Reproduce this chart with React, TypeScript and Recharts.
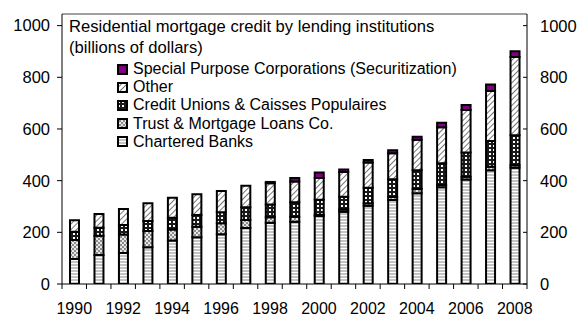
import { BarChart, Bar, XAxis, YAxis, ReferenceLine } from "recharts";

// billions of dollars
const years = [
  1990, 1991, 1992, 1993, 1994, 1995, 1996, 1997, 1998, 1999,
  2000, 2001, 2002, 2003, 2004, 2005, 2006, 2007, 2008,
];
const charteredBanks = [97, 112, 120, 142, 168, 181, 193, 217, 237, 241, 263, 280, 303, 325, 351, 374, 404, 440, 450];
const trustMortgage = [73, 75, 72, 63, 43, 41, 42, 31, 21, 19, 5, 8, 10, 12, 17, 9, 11, 14, 10];
const creditUnions = [32, 31, 36, 39, 45, 45, 43, 49, 50, 56, 58, 50, 60, 68, 72, 84, 94, 99, 116];
const other = [45, 53, 62, 69, 78, 80, 82, 83, 82, 81, 84, 95, 97, 101, 118, 140, 164, 194, 303];
const specialPurpose = [0, 0, 0, 0, 0, 0, 0, 0, 5, 13, 22, 10, 10, 12, 12, 17, 20, 25, 22];

const yTicks = [0, 200, 400, 600, 800, 1000];

const series = [
  { key: "cb", name: "Chartered Banks", values: charteredBanks, fill: "url(#pCb)" },
  { key: "tm", name: "Trust & Mortgage Loans Co.", values: trustMortgage, fill: "url(#pTm)" },
  { key: "cu", name: "Credit Unions & Caisses Populaires", values: creditUnions, fill: "url(#pCu)" },
  { key: "ot", name: "Other", values: other, fill: "url(#pOt)" },
  { key: "sp", name: "Special Purpose Corporations (Securitization)", values: specialPurpose, fill: "#800080" },
];

const data = years.map((year, i) => {
  const row: Record<string, number> = { year };
  series.forEach((s) => (row[s.key] = s.values[i]));
  return row;
});

const FONT = "'Liberation Sans', Arial, sans-serif";
const TOP = 1045;

function YearTick(props: any) {
  const { x, y, payload, index, width } = props;
  const half =
    payload && payload.offset > 0 ? payload.offset : (width || 465) / years.length / 2;
  const isLast = index === years.length - 1;
  return (
    <g>
      <line x1={x - half} x2={x - half} y1={y} y2={y + 5} stroke="#000" />
      {isLast && <line x1={x + half} x2={x + half} y1={y} y2={y + 5} stroke="#000" />}
      {payload.value % 2 === 0 && (
        <text x={x} y={y + 30} textAnchor="middle" fontSize={16} fontFamily={FONT} fill="#000">
          {payload.value}
        </text>
      )}
    </g>
  );
}

function RightTick(props: any) {
  const { x, y, payload } = props;
  return (
    <g>
      <line x1={x - 4} x2={x} y1={y} y2={y} stroke="#000" />
      <text x={x + 13} y={y + 6} fontSize={16.5} fontFamily={FONT} fill="#000">
        {payload.value}
      </text>
    </g>
  );
}

function Patterns() {
  return (
    <svg width={0} height={0} style={{ position: "absolute" }}>
      <defs>
        <pattern id="pCb" width={4} height={3} patternUnits="userSpaceOnUse">
          <rect width={4} height={3} fill="#fff" />
          <rect width={4} height={2} fill="#c4c4c4" />
        </pattern>
        <pattern id="pTm" width={4} height={4} patternUnits="userSpaceOnUse">
          <rect width={4} height={4} fill="#e8e8e8" />
          <rect x={0} y={0} width={2} height={2} fill="#8c8c8c" />
          <rect x={2} y={2} width={2} height={2} fill="#8c8c8c" />
        </pattern>
        <pattern id="pCu" width={4} height={4} patternUnits="userSpaceOnUse">
          <rect width={4} height={4} fill="#1a1a1a" />
          <rect x={1} y={1} width={2} height={2} fill="#fff" />
        </pattern>
        <pattern
          id="pOt"
          width={4}
          height={4}
          patternUnits="userSpaceOnUse"
          patternTransform="rotate(45)"
        >
          <rect width={4} height={4} fill="#fff" />
          <line x1={0} y1={0} x2={0} y2={4} stroke="#777" strokeWidth={2} />
        </pattern>
      </defs>
    </svg>
  );
}

export default function App() {
  return (
    <div style={{ position: "absolute", left: 0, top: 0, width: 581, height: 317, background: "#fff" }}>
      <Patterns />
      <BarChart
        width={581}
        height={317}
        data={data}
        margin={{ top: 14, right: 0, bottom: 0, left: 0 }}
        barSize={9}
      >
        <XAxis
          dataKey="year"
          height={33}
          interval={0}
          tickLine={false}
          tickSize={0}
          tickMargin={0}
          axisLine={{ stroke: "#000" }}
          tick={<YearTick />}
        />
        <YAxis
          yAxisId="left"
          width={62}
          domain={[0, TOP]}
          ticks={yTicks}
          allowDataOverflow
          tickSize={5}
          tickMargin={7}
          axisLine={{ stroke: "#000" }}
          tickLine={{ stroke: "#000" }}
          tick={{ fill: "#000", fontSize: 16.5, fontFamily: FONT }}
        />
        <YAxis
          yAxisId="right"
          orientation="right"
          width={54}
          domain={[0, TOP]}
          ticks={yTicks}
          allowDataOverflow
          tickSize={0}
          tickMargin={0}
          axisLine={{ stroke: "#000" }}
          tickLine={false}
          tick={<RightTick />}
        />
        <ReferenceLine yAxisId="left" y={TOP} stroke="#808080" strokeWidth={1.5} />
        {series.map((s) => (
          <Bar
            key={s.key}
            yAxisId="left"
            dataKey={s.key}
            name={s.name}
            stackId="a"
            fill={s.fill}
            stroke="#000"
            strokeWidth={2}
            isAnimationActive={false}
          />
        ))}
      </BarChart>
      <div
        style={{
          position: "absolute",
          left: 69,
          top: 16,
          fontFamily: FONT,
          fontSize: 16.6,
          lineHeight: "21px",
          color: "#000",
          whiteSpace: "nowrap",
        }}
      >
        <div>Residential mortgage credit by lending institutions</div>
        <div>(billions of dollars)</div>
      </div>
      <div
        style={{
          position: "absolute",
          left: 117,
          top: 60,
          fontFamily: FONT,
          fontSize: 16,
          lineHeight: "18.2px",
          color: "#000",
          whiteSpace: "nowrap",
        }}
      >
        {[...series].reverse().map((s) => (
          <div key={s.key} style={{ display: "flex", alignItems: "center", height: 18.2 }}>
            <svg width={11} height={11} style={{ marginRight: 5 }}>
              <rect x={1} y={1} width={9} height={9} fill={s.fill} stroke="#000" strokeWidth={2} />
            </svg>
            <span>{s.name}</span>
          </div>
        ))}
      </div>
    </div>
  );
}
